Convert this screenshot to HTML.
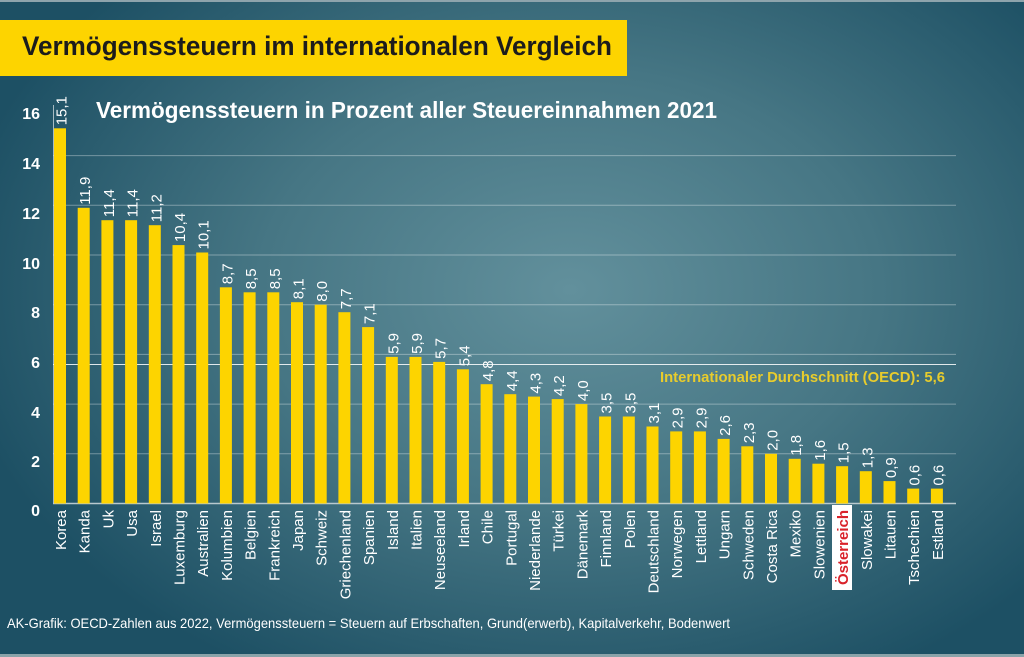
<!DOCTYPE html>
<html><head><meta charset="utf-8"><style>
html,body{margin:0;padding:0;width:1024px;height:657px;overflow:hidden;background:#1f5063}
svg{display:block}
.v{font-family:"Liberation Sans",sans-serif;font-size:15px;fill:#fff}
.x{font-family:"Liberation Sans",sans-serif;font-size:15px;fill:#fff;text-anchor:end}
.y{font-family:"Liberation Sans",sans-serif;font-size:16px;font-weight:bold;fill:#fff;text-anchor:end}
</style></head><body>
<svg width="1024" height="657" viewBox="0 0 1024 657" xmlns="http://www.w3.org/2000/svg">
<defs>
<radialGradient id="bg" gradientUnits="userSpaceOnUse" cx="0" cy="0" r="1" gradientTransform="translate(570,290) scale(620,440)">
<stop offset="0" stop-color="#62909c"/>
<stop offset="0.5" stop-color="#467684"/>
<stop offset="1" stop-color="#1d5064"/>
</radialGradient>
</defs>
<rect x="0" y="0" width="1024" height="657" fill="url(#bg)"/>
<rect x="0" y="0" width="1024" height="2" fill="#8ea4ac"/>
<rect x="0" y="654" width="1024" height="3" fill="#8aa3a9"/>
<!-- title banner -->
<rect x="0" y="20" width="627" height="56" fill="#fdd400"/>
<text x="22" y="55" font-family="Liberation Sans, sans-serif" font-size="27" font-weight="bold" fill="#1c1c1c" textLength="590" lengthAdjust="spacingAndGlyphs">Vermögenssteuern im internationalen Vergleich</text>
<text x="96" y="118" font-family="Liberation Sans, sans-serif" font-size="23" font-weight="bold" fill="#fff" textLength="621" lengthAdjust="spacingAndGlyphs">Vermögenssteuern in Prozent aller Steuereinnahmen 2021</text>
<!-- gridlines -->
<g stroke="#ffffff" stroke-opacity="0.35" stroke-width="1">
<line x1="53" x2="956" y1="155.6" y2="155.6"/>
<line x1="53" x2="956" y1="205.3" y2="205.3"/>
<line x1="53" x2="956" y1="255.0" y2="255.0"/>
<line x1="53" x2="956" y1="304.7" y2="304.7"/>
<line x1="53" x2="956" y1="354.4" y2="354.4"/>
<line x1="53" x2="956" y1="404.1" y2="404.1"/>
<line x1="53" x2="956" y1="453.8" y2="453.8"/>
</g>
<line x1="53" x2="956" y1="364.5" y2="364.5" stroke="#ffffff" stroke-opacity="0.85" stroke-width="1"/>
<line x1="53.5" x2="53.5" y1="105" y2="503.5" stroke="#ffffff" stroke-opacity="0.6" stroke-width="1"/>
<line x1="53" x2="956" y1="503.5" y2="503.5" stroke="#b9c9ce" stroke-width="1.5"/>
<!-- y labels -->
<text class="y" x="40" y="119">16</text>
<text class="y" x="40" y="169">14</text>
<text class="y" x="40" y="219">12</text>
<text class="y" x="40" y="269">10</text>
<text class="y" x="40" y="318">8</text>
<text class="y" x="40" y="368">6</text>
<text class="y" x="40" y="418">4</text>
<text class="y" x="40" y="467">2</text>
<text class="y" x="40" y="516">0</text>
<text x="660" y="382" font-family="Liberation Sans, sans-serif" font-size="15" font-weight="bold" fill="#e8cc2c" textLength="285" lengthAdjust="spacingAndGlyphs">Internationaler Durchschnitt (OECD): 5,6</text>
<!-- bars -->
<g fill="#fdd400">
<rect x="54.0" y="128.3" width="12" height="375.2"/>
<rect x="77.7" y="207.8" width="12" height="295.7"/>
<rect x="101.4" y="220.2" width="12" height="283.3"/>
<rect x="125.1" y="220.2" width="12" height="283.3"/>
<rect x="148.8" y="225.2" width="12" height="278.3"/>
<rect x="172.5" y="245.1" width="12" height="258.4"/>
<rect x="196.2" y="252.5" width="12" height="251.0"/>
<rect x="219.9" y="287.3" width="12" height="216.2"/>
<rect x="243.6" y="292.3" width="12" height="211.2"/>
<rect x="267.3" y="292.3" width="12" height="211.2"/>
<rect x="291.0" y="302.2" width="12" height="201.3"/>
<rect x="314.7" y="304.7" width="12" height="198.8"/>
<rect x="338.4" y="312.2" width="12" height="191.3"/>
<rect x="362.1" y="327.1" width="12" height="176.4"/>
<rect x="385.8" y="356.9" width="12" height="146.6"/>
<rect x="409.5" y="356.9" width="12" height="146.6"/>
<rect x="433.2" y="361.9" width="12" height="141.6"/>
<rect x="456.9" y="369.3" width="12" height="134.2"/>
<rect x="480.6" y="384.2" width="12" height="119.3"/>
<rect x="504.3" y="394.2" width="12" height="109.3"/>
<rect x="528.0" y="396.6" width="12" height="106.9"/>
<rect x="551.7" y="399.1" width="12" height="104.4"/>
<rect x="575.4" y="404.1" width="12" height="99.4"/>
<rect x="599.1" y="416.5" width="12" height="87.0"/>
<rect x="622.8" y="416.5" width="12" height="87.0"/>
<rect x="646.5" y="426.5" width="12" height="77.0"/>
<rect x="670.2" y="431.4" width="12" height="72.1"/>
<rect x="693.9" y="431.4" width="12" height="72.1"/>
<rect x="717.6" y="438.9" width="12" height="64.6"/>
<rect x="741.3" y="446.3" width="12" height="57.2"/>
<rect x="765.0" y="453.8" width="12" height="49.7"/>
<rect x="788.7" y="458.8" width="12" height="44.7"/>
<rect x="812.4" y="463.7" width="12" height="39.8"/>
<rect x="836.1" y="466.2" width="12" height="37.3"/>
<rect x="859.8" y="471.2" width="12" height="32.3"/>
<rect x="883.5" y="481.1" width="12" height="22.4"/>
<rect x="907.2" y="488.6" width="12" height="14.9"/>
<rect x="930.9" y="488.6" width="12" height="14.9"/>
</g>
<!-- value labels -->
<g class="v">
<text transform="translate(66.5,125.3) rotate(-90)">15,1</text>
<text transform="translate(90.2,204.8) rotate(-90)">11,9</text>
<text transform="translate(113.9,217.2) rotate(-90)">11,4</text>
<text transform="translate(137.6,217.2) rotate(-90)">11,4</text>
<text transform="translate(161.3,222.2) rotate(-90)">11,2</text>
<text transform="translate(185.0,242.1) rotate(-90)">10,4</text>
<text transform="translate(208.7,249.5) rotate(-90)">10,1</text>
<text transform="translate(232.4,284.3) rotate(-90)">8,7</text>
<text transform="translate(256.1,289.3) rotate(-90)">8,5</text>
<text transform="translate(279.8,289.3) rotate(-90)">8,5</text>
<text transform="translate(303.5,299.2) rotate(-90)">8,1</text>
<text transform="translate(327.2,301.7) rotate(-90)">8,0</text>
<text transform="translate(350.9,309.2) rotate(-90)">7,7</text>
<text transform="translate(374.6,324.1) rotate(-90)">7,1</text>
<text transform="translate(398.3,353.9) rotate(-90)">5,9</text>
<text transform="translate(422.0,353.9) rotate(-90)">5,9</text>
<text transform="translate(445.7,358.9) rotate(-90)">5,7</text>
<text transform="translate(469.4,366.3) rotate(-90)">5,4</text>
<text transform="translate(493.1,381.2) rotate(-90)">4,8</text>
<text transform="translate(516.8,391.2) rotate(-90)">4,4</text>
<text transform="translate(540.5,393.6) rotate(-90)">4,3</text>
<text transform="translate(564.2,396.1) rotate(-90)">4,2</text>
<text transform="translate(587.9,401.1) rotate(-90)">4,0</text>
<text transform="translate(611.6,413.5) rotate(-90)">3,5</text>
<text transform="translate(635.3,413.5) rotate(-90)">3,5</text>
<text transform="translate(659.0,423.5) rotate(-90)">3,1</text>
<text transform="translate(682.7,428.4) rotate(-90)">2,9</text>
<text transform="translate(706.4,428.4) rotate(-90)">2,9</text>
<text transform="translate(730.1,435.9) rotate(-90)">2,6</text>
<text transform="translate(753.8,443.3) rotate(-90)">2,3</text>
<text transform="translate(777.5,450.8) rotate(-90)">2,0</text>
<text transform="translate(801.2,455.8) rotate(-90)">1,8</text>
<text transform="translate(824.9,460.7) rotate(-90)">1,6</text>
<text transform="translate(848.6,463.2) rotate(-90)">1,5</text>
<text transform="translate(872.3,468.2) rotate(-90)">1,3</text>
<text transform="translate(896.0,478.1) rotate(-90)">0,9</text>
<text transform="translate(919.7,485.6) rotate(-90)">0,6</text>
<text transform="translate(943.4,485.6) rotate(-90)">0,6</text>
</g>
<!-- x labels -->
<rect x="832" y="505" width="20" height="85" fill="#ffffff"/>
<g class="x">
<text transform="translate(66.0,510) rotate(-90)">Korea</text>
<text transform="translate(89.7,510) rotate(-90)">Kanda</text>
<text transform="translate(113.4,510) rotate(-90)">Uk</text>
<text transform="translate(137.1,510) rotate(-90)">Usa</text>
<text transform="translate(160.8,510) rotate(-90)">Israel</text>
<text transform="translate(184.5,510) rotate(-90)">Luxemburg</text>
<text transform="translate(208.2,510) rotate(-90)">Australien</text>
<text transform="translate(231.9,510) rotate(-90)">Kolumbien</text>
<text transform="translate(255.6,510) rotate(-90)">Belgien</text>
<text transform="translate(279.3,510) rotate(-90)">Frankreich</text>
<text transform="translate(303.0,510) rotate(-90)">Japan</text>
<text transform="translate(326.7,510) rotate(-90)">Schweiz</text>
<text transform="translate(350.4,510) rotate(-90)">Griechenland</text>
<text transform="translate(374.1,510) rotate(-90)">Spanien</text>
<text transform="translate(397.8,510) rotate(-90)">Island</text>
<text transform="translate(421.5,510) rotate(-90)">Italien</text>
<text transform="translate(445.2,510) rotate(-90)">Neuseeland</text>
<text transform="translate(468.9,510) rotate(-90)">Irland</text>
<text transform="translate(492.6,510) rotate(-90)">Chile</text>
<text transform="translate(516.3,510) rotate(-90)">Portugal</text>
<text transform="translate(540.0,510) rotate(-90)">Niederlande</text>
<text transform="translate(563.7,510) rotate(-90)">Türkei</text>
<text transform="translate(587.4,510) rotate(-90)">Dänemark</text>
<text transform="translate(611.1,510) rotate(-90)">Finnland</text>
<text transform="translate(634.8,510) rotate(-90)">Polen</text>
<text transform="translate(658.5,510) rotate(-90)">Deutschland</text>
<text transform="translate(682.2,510) rotate(-90)">Norwegen</text>
<text transform="translate(705.9,510) rotate(-90)">Lettland</text>
<text transform="translate(729.6,510) rotate(-90)">Ungarn</text>
<text transform="translate(753.3,510) rotate(-90)">Schweden</text>
<text transform="translate(777.0,510) rotate(-90)">Costa Rica</text>
<text transform="translate(800.7,510) rotate(-90)">Mexiko</text>
<text transform="translate(824.4,510) rotate(-90)">Slowenien</text>
<text transform="translate(848.1,510) rotate(-90)" style="fill:#d9232b;font-weight:bold">Österreich</text>
<text transform="translate(871.8,510) rotate(-90)">Slowakei</text>
<text transform="translate(895.5,510) rotate(-90)">Litauen</text>
<text transform="translate(919.2,510) rotate(-90)">Tschechien</text>
<text transform="translate(942.9,510) rotate(-90)">Estland</text>
</g>
<text x="7" y="628" font-family="Liberation Sans, sans-serif" font-size="14" fill="#fff" textLength="723" lengthAdjust="spacingAndGlyphs">AK-Grafik: OECD-Zahlen aus 2022, Vermögenssteuern = Steuern auf Erbschaften, Grund(erwerb), Kapitalverkehr, Bodenwert</text>
</svg>
</body></html>
